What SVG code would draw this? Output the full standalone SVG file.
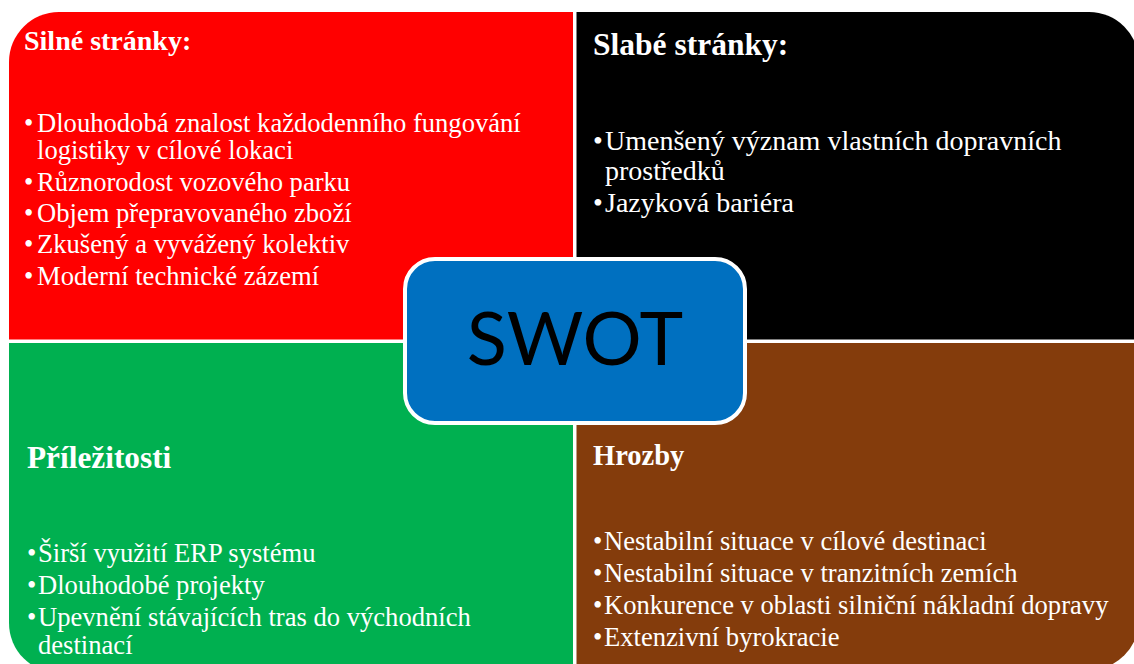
<svg xmlns="http://www.w3.org/2000/svg" width="1134" height="664" viewBox="0 0 1134 664">
<style>
.t{font-family:"Liberation Serif","Times New Roman",serif;fill:#fff}
.h{font-weight:bold}
.b{font-size:26.6px}
.bk{font-size:28px}
.swot{font-family:Lato,"Open Sans",sans-serif;font-size:74px;fill:#000}
</style>
<rect width="1134" height="664" fill="#fff"/>
<g id="strengths">
<path d="M9,62 A50,50 0 0 1 59,12 L573,12 L573,339.5 L9,339.5 Z" fill="#FF0000"/>
<text class="t h" x="24" y="50" font-size="28">Silné stránky:</text>
<text class="t b" x="24" y="132">•<tspan x="37">Dlouhodobá znalost každodenního fungování</tspan><tspan x="37" y="159">logistiky v cílové lokaci</tspan></text>
<text class="t b" x="24" y="191">•<tspan x="37">Různorodost vozového parku</tspan></text>
<text class="t b" x="24" y="222">•<tspan x="37">Objem přepravovaného zboží</tspan></text>
<text class="t b" x="24" y="253">•<tspan x="37">Zkušený a vyvážený kolektiv</tspan></text>
<text class="t b" x="24" y="285">•<tspan x="37">Moderní technické zázemí</tspan></text>
</g>
<g id="weaknesses">
<path d="M576.5,12 L1089,12 A50,50 0 0 1 1139,62 L1139,339.5 L576.5,339.5 Z" fill="#000"/>
<text class="t h" x="593" y="55" font-size="31.5">Slabé stránky:</text>
<text class="t bk" x="593" y="150">•<tspan x="605">Umenšený význam vlastních dopravních</tspan><tspan x="605" y="180">prostředků</tspan></text>
<text class="t bk" x="593" y="212">•<tspan x="605">Jazyková bariéra</tspan></text>
</g>
<g id="opportunities">
<path d="M9,343 L573,343 L573,673 L59,673 A50,50 0 0 1 9,623 Z" fill="#00B050"/>
<text class="t h" x="27" y="468" font-size="31.3">Příležitosti</text>
<text class="t b" x="27" y="562">•<tspan x="38">Širší využití ERP systému</tspan></text>
<text class="t b" x="27" y="594">•<tspan x="38">Dlouhodobé projekty</tspan></text>
<text class="t b" x="27" y="626">•<tspan x="38">Upevnění stávajících tras do východních</tspan><tspan x="38" y="654">destinací</tspan></text>
</g>
<g id="threats">
<path d="M576.5,343 L1139,343 L1139,620 A50,50 0 0 1 1089,670 L576.5,670 Z" fill="#843C0C"/>
<text class="t h" x="593" y="465" font-size="28.5">Hrozby</text>
<text class="t b" x="593" y="550">•<tspan x="604">Nestabilní situace v cílové destinaci</tspan></text>
<text class="t b" x="593" y="582">•<tspan x="604">Nestabilní situace v tranzitních zemích</tspan></text>
<text class="t b" x="593" y="614">•<tspan x="604">Konkurence v oblasti silniční nákladní dopravy</tspan></text>
<text class="t b" x="593" y="646">•<tspan x="604">Extenzivní byrokracie</tspan></text>
</g>
<g id="swot">
<rect x="405" y="259" width="340" height="164" rx="30" fill="#0070C0" stroke="#fff" stroke-width="4"/>
<text class="swot" x="575" y="365" text-anchor="middle">SWOT</text>
</g>
<g id="connectors"></g>
</svg>
